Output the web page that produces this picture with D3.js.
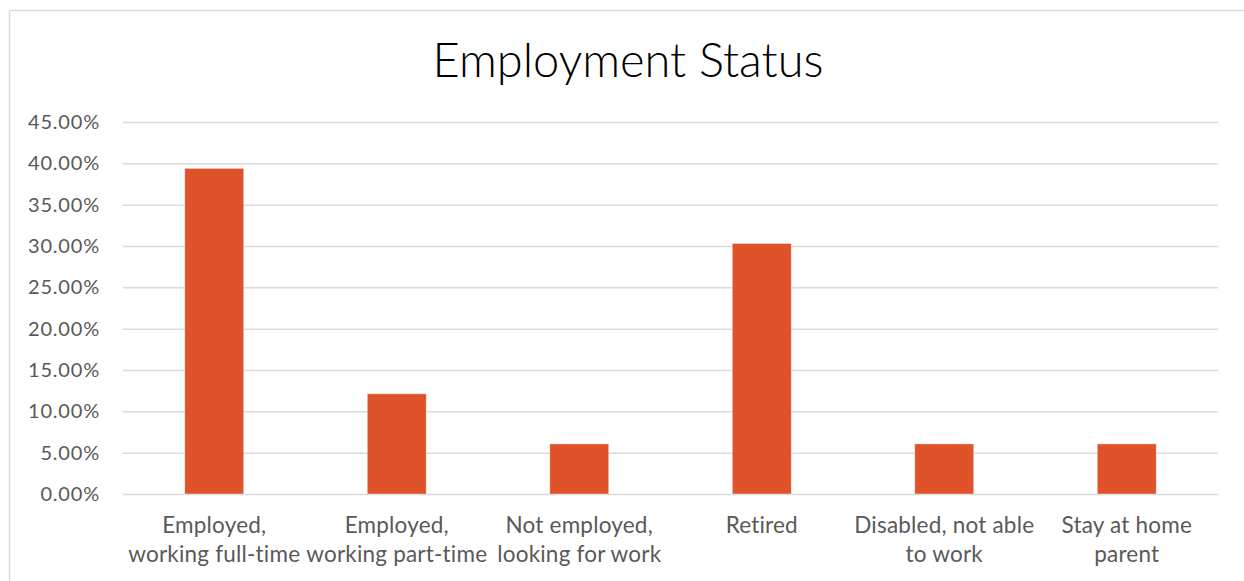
<!DOCTYPE html>
<html>
<head>
<meta charset="utf-8">
<script src="https://cdn.jsdelivr.net/npm/d3@7"></script>
<style>
  html, body { margin: 0; padding: 0; background: #fff; }
  svg { display: block; font-family: Lato, "Open Sans", sans-serif; }
</style>
</head>
<body>
<svg id="chart" width="1244" height="581"></svg>
<script>
// Survey responses by employment status (share of respondents)
const categories = [
  "Employed, working full-time",
  "Employed, working part-time",
  "Not employed, looking for work",
  "Retired",
  "Disabled, not able to work",
  "Stay at home parent"
];
const categoryLines = [
  ["Employed,", "working full-time"],
  ["Employed,", "working part-time"],
  ["Not employed,", "looking for work"],
  ["Retired"],
  ["Disabled, not able", "to work"],
  ["Stay at home", "parent"]
];
const shares = [0.3939, 0.1212, 0.0606, 0.3030, 0.0606, 0.0606];
const yTicks = [0, 0.05, 0.10, 0.15, 0.20, 0.25, 0.30, 0.35, 0.40, 0.45];
const chartTitle = "Employment Status";

const svg = d3.select("#chart");
const W = 1244, H = 581;
const plot = { left: 123, right: 1218, top: 122, bottom: 494 };
const textColor = "#595959";
const gridColor = "#d9d9d9";
const barColor = "#E0532A";

// Chart frame
svg.append("path")
  .attr("d", `M9.5,${H} L9.5,10.5 L${W},10.5`)
  .attr("fill", "none")
  .attr("stroke", gridColor)
  .attr("stroke-width", 1.5);

// Title
svg.append("text")
  .attr("x", 628)
  .attr("y", 77)
  .attr("text-anchor", "middle")
  .attr("font-size", 47)
  .attr("font-weight", 300)
  .attr("fill", "#000")
  .text(chartTitle);

const x = d3.scaleBand()
  .domain(categories)
  .range([plot.left, plot.right])
  .paddingInner(0.677)
  .paddingOuter(0.677 / 2);

const y = d3.scaleLinear()
  .domain([0, 0.45])
  .range([plot.bottom, plot.top]);

// Gridlines and value axis labels
const yAxis = d3.axisLeft(y)
  .tickValues(yTicks)
  .tickSize(-(plot.right - plot.left))
  .tickPadding(23)
  .tickFormat(d3.format(".2%"));

const gy = svg.append("g")
  .attr("transform", `translate(${plot.left},0)`)
  .call(yAxis);
gy.select(".domain").remove();
gy.selectAll(".tick line")
  .attr("stroke", gridColor)
  .attr("stroke-width", 1.5);
gy.selectAll(".tick text")
  .attr("fill", textColor)
  .attr("font-size", 20)
  .attr("letter-spacing", 0.8)
  .attr("font-family", "Lato, sans-serif");

// Bars
svg.append("g")
  .selectAll("rect")
  .data(shares)
  .join("rect")
  .attr("x", (d, i) => x(categories[i]))
  .attr("y", d => y(d))
  .attr("width", x.bandwidth())
  .attr("height", d => y(0) - y(d))
  .attr("fill", barColor)
  .attr("stroke", "#fff")
  .attr("stroke-opacity", 0.5)
  .attr("stroke-width", 0.75);

// Category axis
const xAxis = d3.axisBottom(x).tickSize(0).tickFormat("");
const gx = svg.append("g")
  .attr("transform", `translate(0,${plot.bottom})`)
  .call(xAxis);
gx.select(".domain").remove();

gx.selectAll(".tick").each(function(d, i) {
  const t = d3.select(this).append("text")
    .attr("fill", textColor)
    .attr("font-size", 22.5)
    .attr("letter-spacing", 0.2)
    .attr("text-anchor", "middle")
    .attr("font-family", "Lato, sans-serif");
  categoryLines[i].forEach((line, k) => {
    t.append("tspan")
      .attr("x", 0)
      .attr("y", 39 + k * 29)
      .text(line);
  });
});
</script>
</body>
</html>
